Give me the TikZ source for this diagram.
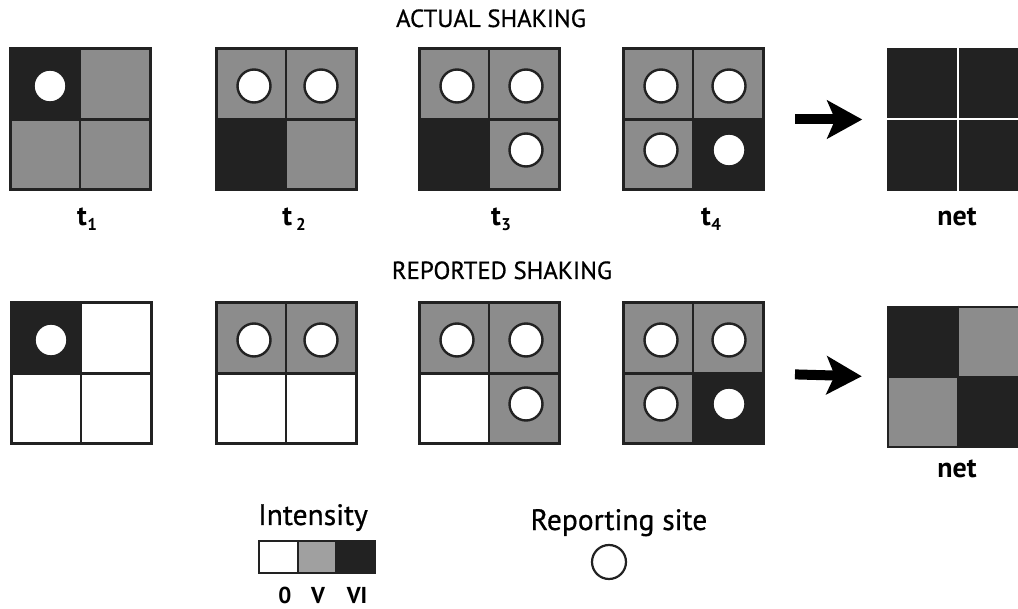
\documentclass[tikz,border=0pt]{standalone}
\usepackage{fontspec}
\setmainfont{PT Sans}
\newfontfamily\medfont{PT Sans}[FakeBold=0.7]
\usetikzlibrary{arrows.meta}
\definecolor{dk}{HTML}{222222}
\definecolor{gr}{HTML}{8C8C8C}
\definecolor{lg}{HTML}{A0A0A0}
\tikzset{
  gridbox/.style={rectangle,draw=dk,line width=3pt,minimum width=140pt,minimum height=141pt,inner sep=0pt,outer sep=0pt},
  divline/.style={draw=dk,line width=2.6pt},
  site/.style={circle,fill=white,draw=dk,line width=2.4pt,minimum size=33pt,inner sep=0pt},
  title/.style={font=\medfont\fontsize{24.8}{25}\selectfont,anchor=base},
  tlab/.style={font=\fontsize{28}{28}\selectfont\bfseries,anchor=base},
  leg/.style={font=\medfont\fontsize{29.5}{30}\selectfont,anchor=base},
  legnum/.style={font=\fontsize{23}{23}\selectfont\bfseries,anchor=base,inner sep=0pt},
  bigarrow/.style={-{Stealth[length=35pt,width=38pt,inset=8pt]},line width=10pt,draw=black},
}
% #1 name, #2 x, #3 y, #4 tl, #5 tr, #6 bl, #7 br
\newcommand{\qgrid}[7]{%
  \fill[#4] (#2,#3) rectangle ++(70,70.5);
  \fill[#5] ({#2+70},#3) rectangle ++(70,70.5);
  \fill[#6] (#2,{#3+70.5}) rectangle ++(70,70.5);
  \fill[#7] ({#2+70},{#3+70.5}) rectangle ++(70,70.5);
  \node[gridbox] (#1) at ({#2+70},{#3+70.5}) {};
  \draw[divline] (#1.north) -- (#1.south);
  \draw[divline] (#1.west) -- (#1.east);
}
\newcommand{\tsub}[2][0.5pt]{t\kern#1\raisebox{-5pt}{\fontsize{17}{17}\selectfont #2}}
\begin{document}
\begin{tikzpicture}[x=1pt,y=-1pt]
\useasboundingbox (0,0) rectangle (1018,609);
\begin{scope}
\clip (0,0) rectangle (1018,609);
% ---- titles
\node[title] (title1) at (491,27) {ACTUAL SHAKING};
\node[title] (title2) at (502,279) {REPORTED SHAKING};
% ---- top row
\qgrid{a1}{10}{49}{dk}{gr}{gr}{gr}
\qgrid{a2}{216}{49}{gr}{gr}{dk}{gr}
\qgrid{a3}{419}{49}{gr}{gr}{dk}{gr}
\qgrid{a4}{623}{49}{gr}{gr}{gr}{dk}
% top net
\fill[dk] (888,49) rectangle (1028,190);
\node[rectangle,minimum width=140pt,minimum height=141pt,inner sep=0pt,draw=dk,line width=1.5pt] (an) at (958,119.5) {};
\draw[white,line width=2pt] (an.north) -- (an.south);
\draw[white,line width=2pt] (an.west) -- (an.east);
% top sites
\node[site] (s11) at (50,86) {};
\node[site] (s21) at (254,86) {};
\node[site] (s22) at (321,86) {};
\node[site] (s31) at (457,86) {};
\node[site] (s32) at (526,86) {};
\node[site] (s34) at (526,150) {};
\node[site] (s41) at (661,86) {};
\node[site] (s42) at (729,86) {};
\node[site] (s43) at (661,150) {};
\node[site] (s44) at (729,150) {};
% top labels
\node[tlab] (lt1) at (87,226) {\tsub{1}};
\node[tlab] (lt2) at (294,226) {\tsub[4pt]{2}};
\node[tlab] (lt3) at (501,226) {\tsub{3}};
\node[tlab] (lt4) at (711,226) {\tsub{4}};
\node[tlab] (ltn) at (957,226) {net};
% arrow top
\draw[bigarrow,shorten <=32pt,shorten >=25pt] (a4.east) -- (an.west);
% ---- bottom row
\qgrid{b1}{11}{303}{dk}{white}{white}{white}
\qgrid{b2}{216}{303}{gr}{gr}{white}{white}
\qgrid{b3}{419}{303}{gr}{gr}{white}{gr}
\qgrid{b4}{623}{303}{gr}{gr}{gr}{dk}
% bottom net
\fill[dk] (888,307) rectangle (958,377);
\fill[gr] (958,307) rectangle (1028,377);
\fill[gr] (888,377) rectangle (958,447);
\fill[dk] (958,377) rectangle (1028,447);
\node[rectangle,minimum width=140pt,minimum height=140pt,inner sep=0pt,draw=dk,line width=2.5pt] (bn) at (958,377) {};
\draw[dk,line width=1.5pt] (bn.north) -- (bn.south);
\draw[dk,line width=1.5pt] (bn.west) -- (bn.east);
% bottom sites
\node[site] (r11) at (51,340) {};
\node[site] (r21) at (254,340) {};
\node[site] (r22) at (321,340) {};
\node[site] (r31) at (457,340) {};
\node[site] (r32) at (526,340) {};
\node[site] (r34) at (526,404) {};
\node[site] (r41) at (661,340) {};
\node[site] (r42) at (729,340) {};
\node[site] (r43) at (661,404) {};
\node[site] (r44) at (729,404) {};
\node[tlab] (lbn) at (957,478) {net};
% arrow bottom
\draw[bigarrow,shorten <=32pt,shorten >=25pt] (b4.east) -- (bn.west);
% ---- legend
\node[leg] (intens) at (313,525) {Intensity};
\fill[white] (259,541) rectangle (298,573);
\fill[lg] (298,541) rectangle (336,573);
\fill[dk] (336,541) rectangle (375,573);
\node[rectangle,draw=dk,line width=2.2pt,minimum width=116pt,minimum height=32pt,inner sep=0pt] (bar) at (317,557) {};
\draw[dk,line width=1.5pt] (298,541) -- (298,573);
\draw[dk,line width=1.5pt] (336,541) -- (336,573);
\node[legnum] (n0) at (285,603) {0};
\node[legnum] (n5) at (318,603) {V};
\node[legnum] (n6) at (357,603) {VI};
\node[leg] (rep) at (619,530) {Reporting site};
\node[site,minimum size=34pt,line width=2.2pt] (legsite) at (609,562) {};
\end{scope}
\end{tikzpicture}
\end{document}
